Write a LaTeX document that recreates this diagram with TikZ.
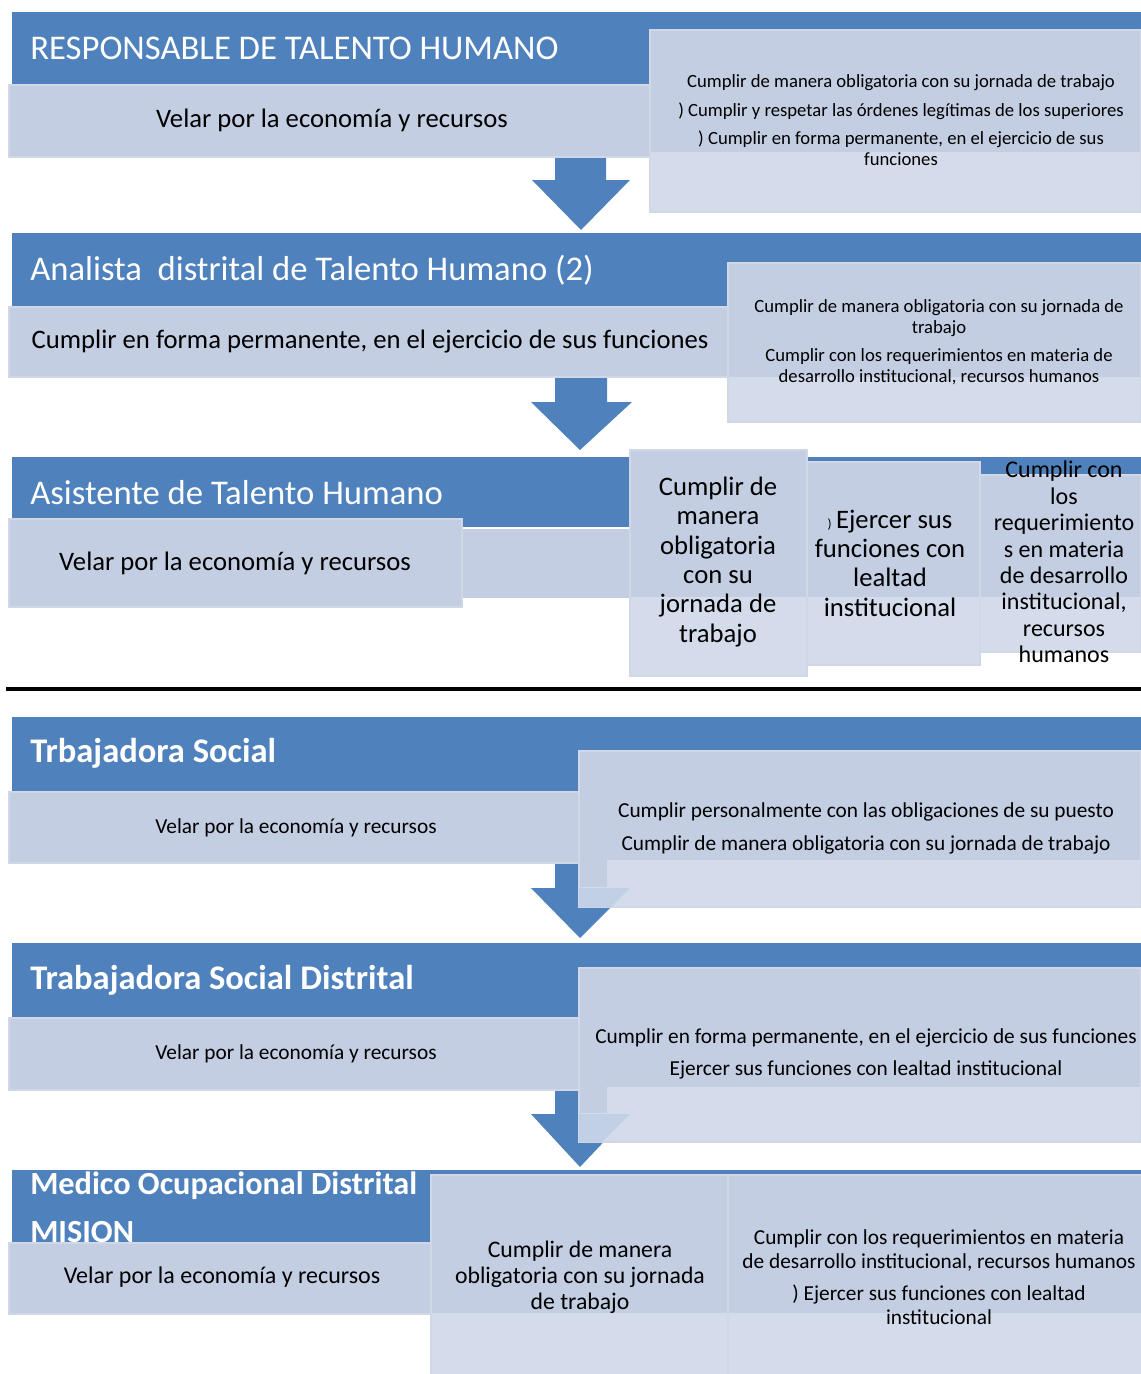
\documentclass[tikz,border=0pt]{standalone}
\usepackage{fontspec}
\setmainfont{Carlito}
\definecolor{hblue}{HTML}{4F81BD}
\definecolor{lband}{HTML}{C3CEE3}
\definecolor{lpale}{HTML}{D4DCEB}
\definecolor{ledge}{HTML}{D0D8E8}
\tikzset{
  hdr/.style={fill=hblue, draw=none},
  tone/.style={fill=lband, draw=none},
  pale/.style={fill=lpale, draw=none},
  edge/.style={draw=ledge, line width=1.3pt},
  htext/.style={text=white, anchor=west, inner sep=0pt, font=\fontsize{26}{30}\selectfont},
  hbold/.style={htext, font=\fontsize{25.9}{36}\selectfont\bfseries, align=left},
  btext/.style={text=black, inner sep=0pt, align=center},
  barrow/.style={fill=hblue, draw=none},
  ghost/.style={fill=hblue, fill opacity=0.13, draw=none},
}
\begin{document}
\begin{tikzpicture}[x=0.75pt, y=-0.75pt]
\useasboundingbox (0,0) rectangle (1141,1374);

% ================= Section 1 =================
\fill[hdr] (12,12) rectangle (1141,85);
\node[htext] (h1) at (30,48) {RESPONSABLE DE TALENTO HUMANO};
\fill[barrow] (555,150) -- (606,150) -- (606,180) -- (630,180) -- (581,230) -- (532,180) -- (555,180) -- cycle;
\fill[tone] (9,85) rectangle (655,157);
\draw[edge] (9,85) rectangle (655,157);
\node[btext, font=\fontsize{20}{24}\selectfont] (v1) at (332,120) {Velar por la economía y recursos};
\fill[tone] (650,30) rectangle (1141,152);
\fill[pale] (650,152) rectangle (1141,212);
\draw[edge] (650,30) rectangle (1141,212);
\node[btext, font=\fontsize{14}{15.75}\selectfont] (r1) at (901,120)
  {Cumplir de manera obligatoria con su jornada de trabajo\\[5.5pt]
   ) Cumplir y respetar las órdenes legítimas de los superiores\\[5.2pt]
   ) Cumplir en forma permanente, en el ejercicio de sus\\
   funciones};

% ================= Section 2 =================
\fill[hdr] (12,233) rectangle (1141,307);
\node[htext] (h2) at (30,270) {Analista~ distrital de Talento Humano (2)};
\fill[barrow] (555,372) -- (607,372) -- (607,402) -- (632,402) -- (580,450) -- (531,402) -- (555,402) -- cycle;
\fill[tone] (9,307) rectangle (728,377);
\draw[edge] (9,307) rectangle (728,377);
\node[btext, font=\fontsize{20}{24}\selectfont] (v2) at (370,342) {Cumplir en forma permanente, en el ejercicio de sus funciones};
\fill[tone] (728,263) rectangle (1141,377);
\fill[pale] (728,377) rectangle (1141,422);
\draw[edge] (728,263) rectangle (1141,422);
\node[btext, font=\fontsize{14}{15.75}\selectfont] (r2) at (939,342)
  {Cumplir de manera obligatoria con su jornada de\\
   trabajo\\[5.2pt]
   Cumplir con los requerimientos en materia de\\
   desarrollo institucional, recursos humanos};

% ================= Section 3 =================
\fill[hdr] (12,457) rectangle (1141,527);
\node[htext] (h3) at (30,493) {Asistente de Talento Humano};
\fill[tone] (9,529) rectangle (1141,598);
\fill[tone] (9,519) rectangle (462,607);
\draw[edge] (9,519) rectangle (462,607);
\node[btext, font=\fontsize{20}{24}\selectfont] (v3) at (235,563) {Velar por la economía y recursos};
% three boxes
\fill[tone] (630,450) rectangle (807,597);
\fill[pale] (630,597) rectangle (807,676);
\draw[edge] (630,450) rectangle (807,676);
\node[btext, font=\fontsize{20}{22}\selectfont] (b31) at (718,562)
  {Cumplir de\\manera\\obligatoria\\con su\\jornada de\\trabajo};
\fill[tone] (807,462) rectangle (980,597);
\fill[pale] (807,597) rectangle (980,665);
\draw[edge] (807,462) rectangle (980,665);
\node[btext, font=\fontsize{20}{22}\selectfont] (b32) at (890,563)
  {{\fontsize{10}{10}\selectfont)}\,Ejercer sus\\funciones con\\lealtad\\institucional};
\fill[tone] (980,475) rectangle (1141,597);
\fill[pale] (980,597) rectangle (1141,652);
\draw[edge] (980,475) rectangle (1141,652);
\node[btext, font=\fontsize{18}{19.8}\selectfont] (b33) at (1064,562)
  {Cumplir con\\los\\requerimiento\\s en materia\\de desarrollo\\institucional,\\recursos\\humanos};

% separator
\draw[line width=3.6pt, black] (6,689) -- (1141,689);

% ================= Section 4 =================
\fill[hdr] (12,717) rectangle (1141,792);
\node[hbold] (h4) at (30,753) {Trbajadora Social};
\fill[barrow] (555,855) -- (606,855) -- (606,888) -- (630,888) -- (580,938) -- (531,888) -- (555,888) -- cycle;
\fill[tone] (9,792) rectangle (579,863);
\draw[edge] (9,792) rectangle (579,863);
\node[btext, font=\fontsize{16}{19}\selectfont] (v4) at (296,828) {Velar por la economía y recursos};
\fill[tone] (579,751) rectangle (1141,907);
\fill[pale] (607,860) rectangle (1141,887);
\fill[pale] (579,887) rectangle (1141,907);
\draw[edge] (579,751) rectangle (1141,907);
\fill[ghost] (579,888) -- (630,888) -- (611,907) -- (579,907) -- cycle;
\node[btext, font=\fontsize{16}{24.75}\selectfont] (r4) at (866,828)
  {Cumplir personalmente con las obligaciones de su puesto\\
   Cumplir de manera obligatoria con su jornada de trabajo};

% ================= Section 5 =================
\fill[hdr] (12,943) rectangle (1141,1018);
\node[hbold] (h5) at (30,980) {Trabajadora Social Distrital};
\fill[barrow] (555,1085) -- (606,1085) -- (606,1114) -- (630,1114) -- (580,1167) -- (531,1114) -- (555,1114) -- cycle;
\fill[tone] (9,1018) rectangle (579,1090);
\draw[edge] (9,1018) rectangle (579,1090);
\node[btext, font=\fontsize{16}{19}\selectfont] (v5) at (296,1054) {Velar por la economía y recursos};
\fill[tone] (579,968) rectangle (1141,1142);
\fill[pale] (607,1087) rectangle (1141,1113);
\fill[pale] (579,1113) rectangle (1141,1142);
\draw[edge] (579,968) rectangle (1141,1142);
\fill[ghost] (579,1114) -- (630,1114) -- (602,1142) -- (579,1142) -- cycle;
\node[btext, font=\fontsize{16}{24}\selectfont] (r5) at (866,1054)
  {Cumplir en forma permanente, en el ejercicio de sus funciones\\
   Ejercer sus funciones con lealtad institucional};

% ================= Section 6 =================
\fill[hdr] (12,1170) rectangle (1141,1243);
\fill[tone] (9,1243) rectangle (431,1314);
\draw[edge] (9,1243) rectangle (431,1314);
\node[btext, font=\fontsize{18}{21}\selectfont] (v6) at (222,1277) {Velar por la economía y recursos};
\fill[tone] (431,1175) rectangle (728,1313);
\fill[pale] (431,1313) rectangle (728,1374);
\draw[edge] (431,1175) rectangle (728,1376);
\node[btext, font=\fontsize{17.8}{19.5}\selectfont] (b61) at (580,1277)
  {Cumplir de manera\\obligatoria con su jornada\\de trabajo};
\fill[tone] (728,1175) rectangle (1141,1313);
\fill[pale] (728,1313) rectangle (1141,1374);
\draw[edge] (728,1175) rectangle (1143,1376);
\node[btext, font=\fontsize{16}{18}\selectfont] (b62) at (939,1277)
  {Cumplir con los requerimientos en materia\\
   de desarrollo institucional, recursos humanos\\[6pt]
   ) Ejercer sus funciones con lealtad\\
   institucional};
\node[hbold, font=\fontsize{24.2}{36}\selectfont\bfseries] (h6) at (30,1207) {Medico Ocupacional Distrital\\MISION};
\end{tikzpicture}
\end{document}
